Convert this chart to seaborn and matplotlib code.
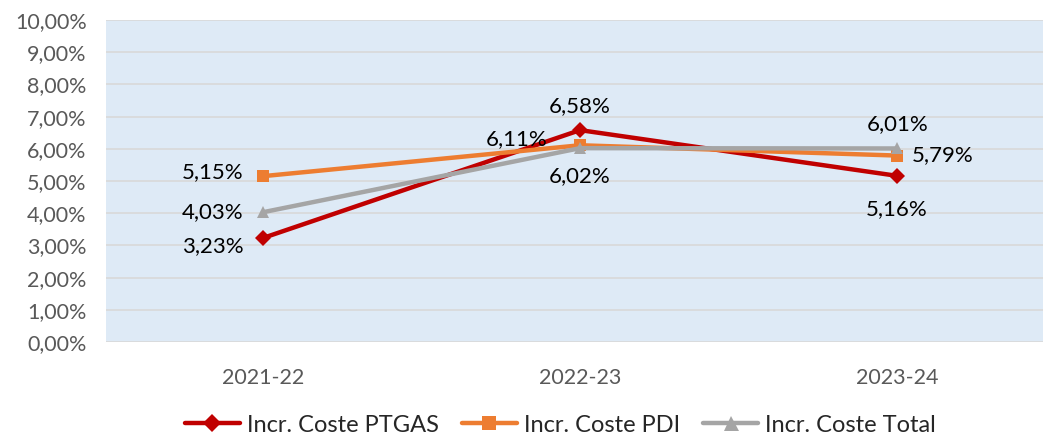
import numpy as np
import pandas as pd
from matplotlib import pyplot as plt
from matplotlib.ticker import FuncFormatter
import seaborn as sns

# data
years = ['2021-22', '2022-23', '2023-24']
ptgas = [3.23, 6.58, 5.16]
pdi = [5.15, 6.11, 5.79]
total = [4.03, 6.02, 6.01]
series_names = ['Incr. Coste PTGAS', 'Incr. Coste PDI', 'Incr. Coste Total']

df = pd.DataFrame({
    'year': years * 3,
    'x': list(range(len(years))) * 3,
    'value': ptgas + pdi + total,
    'series': [series_names[0]] * 3 + [series_names[1]] * 3 + [series_names[2]] * 3,
})

sns.set_style('white')
plt.rcParams['font.family'] = ['Lato', 'DejaVu Sans']

colors = {series_names[0]: '#C00000', series_names[1]: '#ED7D31', series_names[2]: '#A5A5A5'}
markers = {series_names[0]: 'D', series_names[1]: 's', series_names[2]: '^'}
msizes = {series_names[0]: 8, series_names[1]: 8, series_names[2]: 9}

fig = plt.figure(figsize=(10.43, 4.38), dpi=100)
ax = fig.add_axes([106 / 1043, 1 - 342 / 438, (1043 - 106) / 1043, 322 / 438])
ax.set_facecolor('#DEEAF6')

for name in series_names:
    d = df[df['series'] == name]
    sns.lineplot(data=d, x='x', y='value', color=colors[name], marker=markers[name],
                 markersize=msizes[name], markeredgewidth=0, linewidth=3.2, ax=ax,
                 label=name, zorder=3)

ax.set_xlim(-0.495, 2.46)
ax.set_ylim(0, 10)
ax.set_yticks(np.arange(0, 11, 1))
ax.yaxis.set_major_formatter(FuncFormatter(lambda v, p: f'{v:.2f}%'.replace('.', ',')))
ax.set_xticks(range(len(years)))
ax.set_xticklabels(years)
ax.tick_params(axis='both', length=0, labelsize=15.5, labelcolor='#595959')
ax.tick_params(axis='x', pad=19)
ax.tick_params(axis='y', pad=14)
ax.grid(axis='y', color='#D9D9D9', linewidth=1.2)
ax.set_axisbelow(True)
for s in ax.spines.values():
    s.set_visible(False)
ax.set_xlabel('')
ax.set_ylabel('')

# data labels (offsets in pixels)
offsets = {
    series_names[0]: [(-50, -8), (0, 24), (0, -33)],
    series_names[1]: [(-50, 4), (-63, 6), (46, 0)],
    series_names[2]: [(-50, 0), (0, -28), (0, 24)],
}
vals = {series_names[0]: ptgas, series_names[1]: pdi, series_names[2]: total}
for name in series_names:
    for i, v in enumerate(vals[name]):
        dx, dy = offsets[name][i]
        ax.annotate(f'{v:.2f}%'.replace('.', ','), (i, v), xytext=(dx, dy),
                    textcoords='offset pixels', ha='center', va='center',
                    fontsize=16, color='black', zorder=5)

leg = ax.legend(loc='center', bbox_to_anchor=(0.485, -0.258), ncol=3, frameon=False,
                fontsize=17, handlelength=2.3, columnspacing=1.0, handletextpad=0.3,
                markerscale=1.2, borderpad=0.1)

fig.savefig('out.png', dpi=100)
